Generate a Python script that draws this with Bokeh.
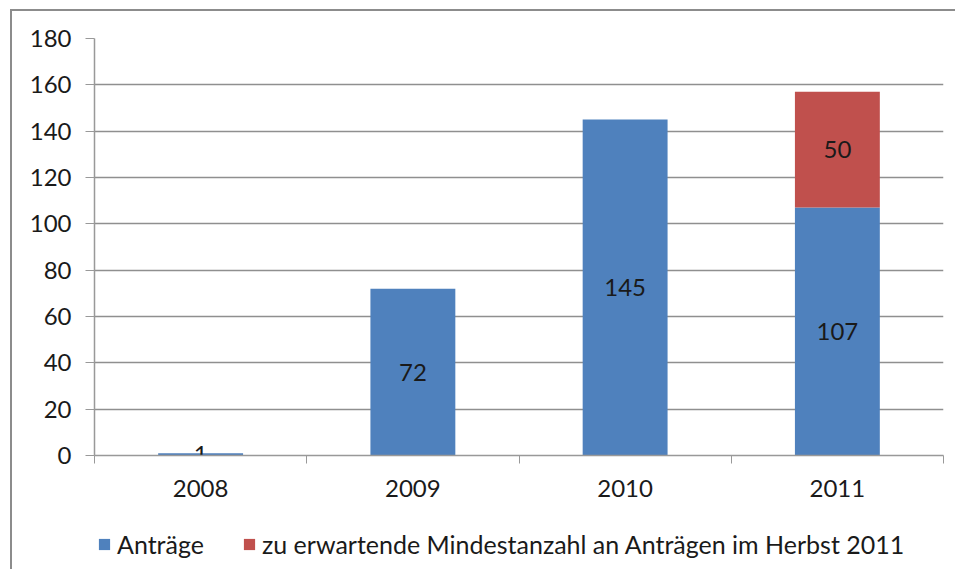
from bokeh.plotting import figure
from bokeh.layouts import column, row
from bokeh.models import ColumnDataSource, FixedTicker, Legend, LegendItem, Range1d, Spacer
from bokeh.core.properties import value
from bokeh.embed import file_html
from bokeh.resources import INLINE

years = ["2008", "2009", "2010", "2011"]
antraege = [1, 72, 145, 107]
erwartet = [0, 0, 0, 50]
series_names = ["Anträge", "zu erwartende Mindestanzahl an Anträgen im Herbst 2011"]
colors = ["#4F81BD", "#C0504D"]
y_ticks = [0, 20, 40, 60, 80, 100, 120, 140, 160, 180]

FONT = "Lato"
FS = "24px"
W = 943

xs = [i + 0.5 for i in range(len(years))]
src = ColumnDataSource(dict(x=xs, a=antraege, e=erwartet))

p = figure(width=W, height=500, output_backend="svg", toolbar_location=None,
           x_range=Range1d(0, len(years)), y_range=Range1d(0, 180))
p.min_border_left = 82
p.min_border_right = 12
p.min_border_top = 27
p.min_border_bottom = 56
p.outline_line_color = None

r = p.vbar_stack(["a", "e"], x="x", width=0.4, source=src, color=colors, line_color=None)

# labels
lx, ly, lt = [], [], []
for i, (a, e) in enumerate(zip(antraege, erwartet)):
    lx.append(xs[i]); ly.append(a / 2); lt.append(str(a))
    if e:
        lx.append(xs[i]); ly.append(a + e / 2); lt.append(str(e))
p.text(x=lx, y=ly, text=lt, text_align="center", text_baseline="middle",
       text_font=value(FONT), text_font_size=FS, text_color="#1a1a1a")

# axes
p.xaxis.ticker = FixedTicker(ticks=xs, minor_ticks=list(range(len(years) + 1)))
p.xaxis.major_label_overrides = {x: y for x, y in zip(xs, years)}
p.xaxis.major_tick_out = 0
p.xaxis.major_tick_in = 0
p.xaxis.minor_tick_out = 8
p.xaxis.minor_tick_in = 0
p.xaxis.minor_tick_line_color = "#999999"
p.xaxis.axis_line_color = "#999999"
p.xaxis.major_label_standoff = 16

p.yaxis.ticker = FixedTicker(ticks=y_ticks)
p.yaxis.major_tick_out = 9
p.yaxis.major_tick_in = 0
p.yaxis.minor_tick_line_color = None
p.yaxis.major_tick_line_color = "#999999"
p.yaxis.axis_line_color = "#999999"
p.yaxis.major_label_standoff = 14

for ax in (p.xaxis[0], p.yaxis[0]):
    ax.major_label_text_font = FONT
    ax.major_label_text_font_size = FS
    ax.major_label_text_color = "#1a1a1a"
    ax.axis_line_width = 1.5

p.xgrid.grid_line_color = None
p.ygrid.grid_line_color = "#8f8f8f"
p.ygrid.grid_line_width = 1.3
p.ygrid.ticker = FixedTicker(ticks=y_ticks)

# legend panel below the chart
q = figure(width=W, height=58, output_backend="svg", toolbar_location=None,
           x_range=Range1d(0, 1), y_range=Range1d(0, 1))
q.min_border_left = 0
q.min_border_right = 0
q.min_border_top = 0
q.min_border_bottom = 0
q.outline_line_color = None
q.axis.visible = False
q.grid.visible = False
lr = [q.rect(x=[-5], y=[-5], width=0.1, height=0.1, fill_color=c, line_color=None) for c in colors]

legend = Legend(items=[LegendItem(label=series_names[i], renderers=[lr[i]]) for i in range(2)],
                orientation="horizontal", location=(3, 10))
legend.label_text_font = FONT
legend.label_text_font_size = "25px"
legend.label_text_color = "#1a1a1a"
legend.glyph_width = 14
legend.glyph_height = 14
legend.label_standoff = 6
legend.spacing = 38
legend.padding = 0
legend.margin = 0
legend.border_line_color = None
legend.background_fill_alpha = 0
q.add_layout(legend)

inner = column(p, q, spacing=0)
inner.styles = {"border-left": "2px solid #8c8c8c", "border-top": "2px solid #8c8c8c"}

layout = column(Spacer(height=9), row(Spacer(width=10), inner, spacing=0), spacing=0)

open("out.html", "w").write(file_html(layout, INLINE))
